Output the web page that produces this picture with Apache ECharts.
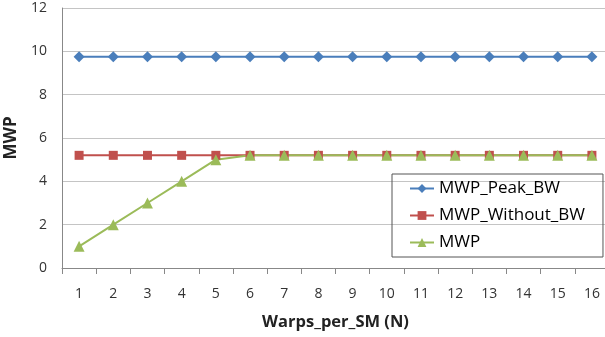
<!DOCTYPE html>
<html><head><meta charset="utf-8">
<script src="https://cdn.jsdelivr.net/npm/echarts@6/dist/echarts.min.js"></script>
<style>html,body{margin:0;padding:0;background:#fff}#c{width:605px;height:337px}</style>
</head><body><div id="c"></div>
<script>
var categories = ['1','2','3','4','5','6','7','8','9','10','11','12','13','14','15','16'];
var mwpPeakBW = [9.75,9.75,9.75,9.75,9.75,9.75,9.75,9.75,9.75,9.75,9.75,9.75,9.75,9.75,9.75,9.75];
var mwpWithoutBW = [5.2,5.2,5.2,5.2,5.2,5.2,5.2,5.2,5.2,5.2,5.2,5.2,5.2,5.2,5.2,5.2];
var mwp = [1,2,3,4,5,5.2,5.2,5.2,5.2,5.2,5.2,5.2,5.2,5.2,5.2,5.2];
var yTicks = [0,2,4,6,8,10,12];

var font = "'Open Sans', 'Liberation Sans', sans-serif";
var chart = echarts.init(document.getElementById('c'));
chart.setOption({
  animation: false,
  grid: {left: 62, top: 8, width: 547, height: 260, containLabel: false, outerBoundsMode: 'none'},
  legend: {
    left: 392, top: 174, orient: 'vertical', itemGap: 10,
    padding: [6, 18, 6, 17],
    borderColor: '#555', borderWidth: 1, borderRadius: 0,
    itemWidth: 24, itemHeight: 11,
    textStyle: {fontFamily: font, fontSize: 17, color: '#000'},
    data: ['MWP_Peak_BW','MWP_Without_BW','MWP']
  },
  xAxis: {
    type: 'category', data: categories, boundaryGap: true,
    name: 'Warps_per_SM (N)', nameLocation: 'middle', nameGap: 46,
    nameTextStyle: {fontFamily: font, fontSize: 16.5, fontWeight: 'bold', color: '#222'},
    axisLine: {lineStyle: {color: '#888', width: 1}},
    axisTick: {show: true, length: 6, inside: false, lineStyle: {color: '#888'}, alignWithLabel: false},
    axisLabel: {fontFamily: font, fontSize: 14, color: '#333', margin: 19}
  },
  yAxis: {
    type: 'value', min: 0, max: 12, interval: 2,
    name: 'MWP', nameLocation: 'middle', nameGap: 40, nameRotate: 90,
    nameTextStyle: {fontFamily: font, fontSize: 17, fontWeight: 'bold', color: '#222'},
    axisLine: {show: true, lineStyle: {color: '#888', width: 1}},
    axisTick: {show: false},
    splitLine: {lineStyle: {color: '#c4c4c4', width: 1}},
    axisLabel: {fontFamily: font, fontSize: 14, color: '#333', margin: 15,
      formatter: function(v){ return yTicks.indexOf(v) >= 0 ? String(v) : ''; }}
  },
  series: [
    {name: 'MWP_Peak_BW', type: 'line', data: mwpPeakBW, symbol: 'diamond', symbolSize: 11,
     itemStyle: {color: '#4A7EBB'}, lineStyle: {color: '#4A7EBB', width: 2}},
    {name: 'MWP_Without_BW', type: 'line', data: mwpWithoutBW, symbol: 'rect', symbolSize: 9,
     itemStyle: {color: '#C0504D'}, lineStyle: {color: '#C0504D', width: 2}},
    {name: 'MWP', type: 'line', data: mwp, symbol: 'triangle', symbolSize: 11,
     itemStyle: {color: '#9BBB59'}, lineStyle: {color: '#9BBB59', width: 2}}
  ]
});
</script></body></html>
